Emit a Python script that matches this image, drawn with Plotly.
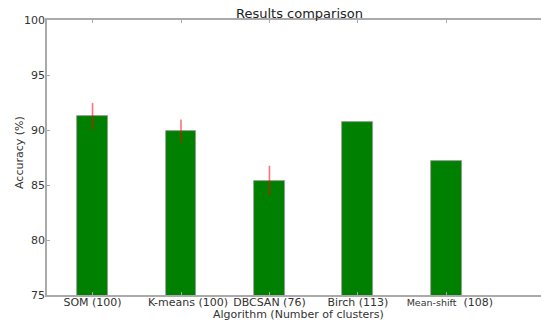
import plotly.graph_objects as go

categories = ["SOM (100)", "K-means (100)", "DBCSAN (76)", "Birch (113)", "Mean-shift (108)"]
tick_text = ["SOM (100)", "&nbsp;&nbsp;&nbsp;&nbsp;K-means&nbsp;(100)", "DBCSAN (76)", "Birch (113)",
             "&nbsp;&nbsp;<span style='font-size:9.5px'>Mean-shift</span>&nbsp;&nbsp;(108)"]
accuracy = [91.25, 89.9, 85.4, 90.75, 87.2]
errors = [1.2, 1.05, 1.35, 0, 0]
positions = [0, 1, 2, 3, 4]

# body margin is removed by post_script, so figure coords = page coords
W, H = 541, 322
L, T = 47, 20
B = H - 295
R = 0
pw, ph = W - L - R, H - T - B

fig = go.Figure()
fig.add_trace(go.Bar(
    x=positions, y=accuracy, width=0.35,
    marker=dict(color="#008000", line=dict(color="#9a9a9a", width=0.8)),
    error_y=dict(type="data", array=errors, visible=True, width=0,
                 color="rgba(255,0,0,0.55)", thickness=1.6),
))

def px_x(p):
    return (p - L) / pw

def px_y(p):
    return (T + ph - p) / ph

fig.update_layout(
    width=W, height=H,
    margin=dict(l=L, r=R, t=T, b=B, autoexpand=False),
    paper_bgcolor="white", plot_bgcolor="white",
    font=dict(family="DejaVu Sans", size=11, color="#333333"),
    showlegend=False,
    bargap=0,
    annotations=[
        dict(text="Results comparison", xref="paper", yref="paper",
             x=px_x(299), y=px_y(13.5), xanchor="center", yanchor="middle",
             showarrow=False, font=dict(size=13, color="#222222")),
        dict(text="Algorithm (Number of clusters)", xref="paper", yref="paper",
             x=px_x(298), y=px_y(314.5), xanchor="center", yanchor="middle",
             showarrow=False, font=dict(size=11, color="#333333")),
        dict(text="Accuracy (%)", xref="paper", yref="paper",
             x=px_x(19), y=px_y(153), xanchor="center", yanchor="middle",
             textangle=-90, showarrow=False, font=dict(size=11, color="#333333")),
    ],
)
fig.update_xaxes(
    range=[-0.515, 5.07], tickvals=positions, ticktext=tick_text, automargin=False,
    showline=True, linecolor="#aaaaaa", linewidth=1.5, mirror="ticks",
    ticks="inside", ticklen=3, tickcolor="#aaaaaa", showgrid=False, zeroline=False,
    tickfont=dict(size=11), ticklabelstandoff=-4,
)
fig.update_yaxes(
    range=[75, 100], tickvals=[75, 80, 85, 90, 95, 100], automargin=False,
    showline=True, linecolor="#aaaaaa", linewidth=1.5,
    ticks="inside", ticklen=3, tickcolor="#aaaaaa", showgrid=False, zeroline=False,
    tickfont=dict(size=11), ticklabelstandoff=-2,
)

fig.write_html("out.html", config={"displayModeBar": False},
               post_script="document.body.style.margin='0';")
